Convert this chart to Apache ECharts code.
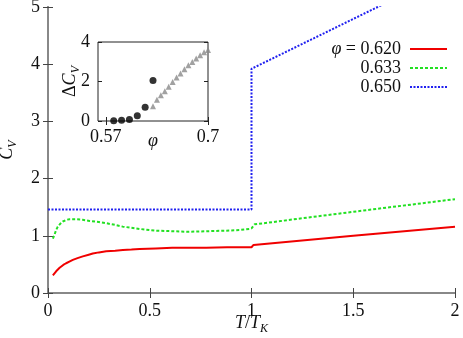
<!DOCTYPE html>
<html><head><meta charset="utf-8">
<script src="https://cdn.jsdelivr.net/npm/echarts@6/dist/echarts.min.js"></script>
<style>html,body{margin:0;padding:0;background:#fff}#c{width:463px;height:338px}</style>
</head><body><div id="c"></div>
<script>
// ---- data ----
const seriesNames = ['0.620', '0.633', '0.650'];
const redX = [0.024,0.04,0.057,0.075,0.089,0.105,0.122,0.145,0.171,0.2,0.22,0.25,0.286,0.33,0.368,0.41,0.45,0.53,0.61,0.69,0.777,0.88,0.99,1.0,1.01,1.5,2.0];
const redY = [0.31,0.38,0.44,0.49,0.52,0.55,0.58,0.61,0.64,0.67,0.69,0.71,0.73,0.74,0.75,0.76,0.77,0.78,0.79,0.79,0.79,0.80,0.80,0.80,0.84,1.00,1.16];
const greenX = [0.024,0.032,0.04,0.048,0.06,0.073,0.09,0.106,0.139,0.17,0.204,0.25,0.286,0.33,0.368,0.41,0.45,0.53,0.61,0.69,0.78,0.876,0.94,0.99,1.0,1.015,1.5,2.0];
const greenY = [0.95,1.02,1.10,1.16,1.21,1.25,1.28,1.29,1.29,1.28,1.26,1.24,1.22,1.19,1.16,1.14,1.12,1.09,1.08,1.07,1.08,1.09,1.10,1.12,1.13,1.20,1.42,1.64];
const blueX = [0, 1.0, 1.0, 1.62, 2.0];
const blueY = [1.46, 1.46, 3.92, 5.0, 5.67];
const circleX = [0.58,0.59,0.60,0.61,0.62,0.63];
const circleY = [0.01,0.04,0.08,0.26,0.70,2.05];
const triX = [0.63,0.635,0.64,0.645,0.65,0.655,0.66,0.665,0.67,0.675,0.68,0.685,0.69,0.695,0.70];
const triY = [0.75,1.08,1.30,1.51,1.74,1.97,2.20,2.41,2.62,2.82,2.99,3.16,3.33,3.48,3.60];
const insetXTicks = [0.57, 0.7];

const zip = (xs, ys) => xs.map((x, i) => [x, ys[i]]);
const FONT = 'Liberation Serif';
const rich = {
  n: {fontFamily: FONT, fontSize: 18, color: '#111'},
  i: {fontFamily: FONT, fontStyle: 'italic', fontSize: 18, lineHeight: 24, color: '#111'},
  r: {fontFamily: FONT, fontSize: 18, lineHeight: 24, color: '#111'},
  s: {fontFamily: FONT, fontStyle: 'italic', fontSize: 12, lineHeight: 12, verticalAlign: 'bottom', color: '#111'}
};
const legRich = {
  i: {fontFamily: FONT, fontStyle: 'italic', fontSize: 18, lineHeight: 16, color: '#111'},
  r: {fontFamily: FONT, fontSize: 18, lineHeight: 16, color: '#111'}
};
const num = v => '{n|' + String(v) + '}';
const lbl = {fontFamily: FONT, fontSize: 18, color: '#111', formatter: num, rich: rich};
const mainLine = {show: true, lineStyle: {color: '#888', width: 2}};
const mainTick = {show: true, inside: true, length: 5, lineStyle: {color: '#444', width: 1}};
const insTick = {show: true, inside: true, length: 4, lineStyle: {color: '#222', width: 1}};

const chart = echarts.init(document.getElementById('c'), null, {renderer: 'canvas'});
chart.setOption({
  animation: false,
  backgroundColor: '#fff',
  grid: [
    {left: 48, top: 7, width: 407, height: 286, containLabel: false, outerBoundsMode: 'none'},
    {left: 98, top: 42, width: 110, height: 79, show: true, backgroundColor: '#fff', borderColor: '#222', borderWidth: 1, z: 10, containLabel: false, outerBoundsMode: 'none'}
  ],
  legend: {
    orient: 'vertical', align: 'right', right: 15, top: 40, padding: 0,
    itemWidth: 37, itemHeight: 12, itemGap: 1,
    data: seriesNames,
    itemStyle: {opacity: 0},
    formatter: n => n === seriesNames[0] ? '{i|φ}{r| = ' + n + '}' : '{r|' + n + '}',
    textStyle: {fontFamily: FONT, fontSize: 18, color: '#111', lineHeight: 16, padding: [0, 4, 0, 0], rich: legRich}
  },
  xAxis: [
    {gridIndex: 0, type: 'value', min: 0, max: 2, interval: 0.5, axisLine: mainLine, axisTick: mainTick,
     axisLabel: Object.assign({margin: 9}, lbl), splitLine: {show: false},
     name: '{i|T}{r|/}{i|T}{s|K}', nameLocation: 'middle', nameGap: 18, nameMoveOverlap: false, nameTextStyle: {rich: rich}},
    {gridIndex: 0, type: 'value', position: 'top', min: 0, max: 2, interval: 0.5, axisLine: mainLine, axisTick: mainTick,
     axisLabel: {show: false}, splitLine: {show: false}},
    {gridIndex: 1, type: 'value', min: 0.56, max: 0.70, axisLine: {show: false},
     axisTick: Object.assign({customValues: insetXTicks}, insTick),
     axisLabel: Object.assign({margin: 7, customValues: insetXTicks}, lbl), splitLine: {show: false},
     name: '{i|φ}', nameLocation: 'middle', nameGap: 8, nameMoveOverlap: false, nameTextStyle: {rich: rich}, z: 11},
    {gridIndex: 1, type: 'value', position: 'top', min: 0.56, max: 0.70, axisLine: {show: false},
     axisTick: Object.assign({customValues: insetXTicks}, insTick), axisLabel: {show: false}, splitLine: {show: false}, z: 11}
  ],
  yAxis: [
    {gridIndex: 0, type: 'value', min: 0, max: 5, interval: 1, axisLine: mainLine, axisTick: mainTick,
     axisLabel: Object.assign({margin: 8}, lbl), splitLine: {show: false},
     name: '{i|C}{s|V}', nameLocation: 'middle', nameGap: 29, nameMoveOverlap: false, nameTextStyle: {rich: rich}},
    {gridIndex: 0, type: 'value', position: 'right', min: 0, max: 5, interval: 1, axisLine: mainLine, axisTick: mainTick,
     axisLabel: {show: false}, splitLine: {show: false}},
    {gridIndex: 1, type: 'value', min: 0, max: 4, interval: 2, axisLine: {show: false}, axisTick: insTick,
     axisLabel: Object.assign({margin: 8}, lbl), splitLine: {show: false},
     name: '{r|Δ}{i|C}{s|V}', nameLocation: 'middle', nameGap: 16, nameMoveOverlap: false, nameTextStyle: {rich: rich}, z: 11},
    {gridIndex: 1, type: 'value', position: 'right', min: 0, max: 4, interval: 2, axisLine: {show: false}, axisTick: insTick,
     axisLabel: {show: false}, splitLine: {show: false}, z: 11}
  ],
  series: [
    {name: seriesNames[0], type: 'line', xAxisIndex: 0, yAxisIndex: 0, data: zip(redX, redY), symbol: 'none', smooth: false,
     color: '#f00000', lineStyle: {color: '#f00000', width: 2}},
    {name: seriesNames[1], type: 'line', xAxisIndex: 0, yAxisIndex: 0, data: zip(greenX, greenY), symbol: 'none',
     color: '#22e022', lineStyle: {color: '#22e022', width: 2, type: [3, 2]}},
    {name: seriesNames[2], type: 'line', xAxisIndex: 0, yAxisIndex: 0, data: zip(blueX, blueY), symbol: 'none',
     color: '#2020f0', lineStyle: {color: '#2020f0', width: 2, type: [2, 1.5]}},
    {name: 'tri', type: 'scatter', xAxisIndex: 2, yAxisIndex: 2, data: zip(triX, triY), symbol: 'triangle', symbolSize: 6,
     itemStyle: {color: '#8a8a8a'}, z: 12},
    {name: 'circ', type: 'scatter', xAxisIndex: 2, yAxisIndex: 2, data: zip(circleX, circleY), symbol: 'circle', symbolSize: 7,
     itemStyle: {color: '#000'}, z: 13}
  ]
});
</script></body></html>
